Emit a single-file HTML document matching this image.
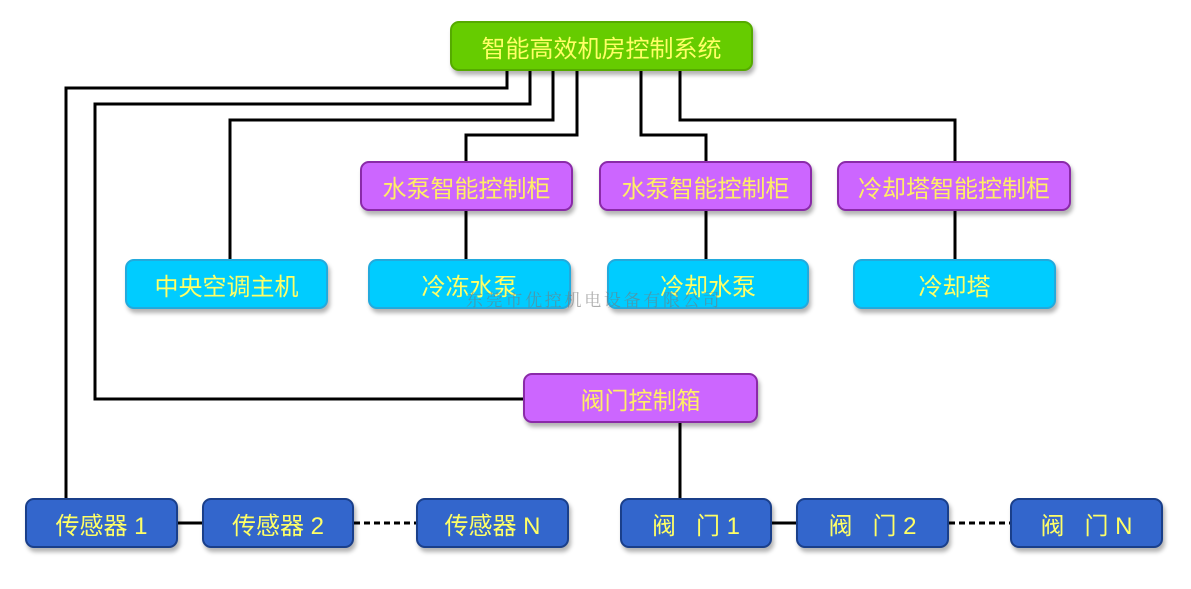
<!DOCTYPE html>
<html><head><meta charset="utf-8"><style>
body{margin:0;width:1191px;height:589px;background:#fff;position:relative;overflow:hidden;font-family:"Liberation Sans","Noto Sans CJK SC",sans-serif}
.b{position:absolute;box-sizing:border-box;border-radius:9px;display:flex;align-items:center;justify-content:center;color:#ffff66;font-size:24px;box-shadow:2px 4px 4px rgba(0,0,0,0.3);white-space:pre}
.g{background:#66cc00;border:2px solid #55aa00}
.p{background:#cc66ff;border:2px solid #8a2aa8;color:#ffee66}
.c{background:#00ccff;border:2px solid #22aadd}
.d{background:#3366cc;border:2px solid #1a3f8a}
svg{position:absolute;left:0;top:0}
.w{position:absolute;left:466px;top:286px;font-size:17px;color:rgba(120,120,120,0.6);font-family:"Noto Serif CJK SC",serif;letter-spacing:2.7px}
</style></head><body>
<svg width="1191" height="589"><g stroke="#000" stroke-width="3" fill="none">
<polyline points="507,71 507,88 66,88 66,498"/>
<polyline points="530,71 530,104 95,104 95,399 523,399"/>
<polyline points="553,71 553,120 230,120 230,260"/>
<polyline points="577,71 577,135 466,135 466,161"/>
<polyline points="641,71 641,135 706,135 706,161"/>
<polyline points="680,71 680,120 955,120 955,161"/>
<line x1="466" y1="211" x2="466" y2="260"/>
<line x1="706" y1="211" x2="706" y2="260"/>
<line x1="955" y1="211" x2="955" y2="260"/>
<line x1="680" y1="423" x2="680" y2="498"/>
<line x1="178" y1="523" x2="202" y2="523"/>
<line x1="772" y1="523" x2="796" y2="523"/>
<line x1="354" y1="523" x2="416" y2="523" stroke-dasharray="6,4"/>
<line x1="949" y1="523" x2="1010" y2="523" stroke-dasharray="6,4"/>
</g></svg>
<div class="b g" style="left:450px;top:21px;width:303px;height:50px">智能高效机房控制系统</div>
<div class="b p" style="left:360px;top:161px;width:213px;height:50px">水泵智能控制柜</div>
<div class="b p" style="left:599px;top:161px;width:213px;height:50px">水泵智能控制柜</div>
<div class="b p" style="left:837px;top:161px;width:234px;height:50px">冷却塔智能控制柜</div>
<div class="b c" style="left:125px;top:259px;width:203px;height:50px">中央空调主机</div>
<div class="b c" style="left:368px;top:259px;width:203px;height:50px">冷冻水泵</div>
<div class="b c" style="left:607px;top:259px;width:202px;height:50px">冷却水泵</div>
<div class="b c" style="left:853px;top:259px;width:203px;height:50px">冷却塔</div>
<div class="b p" style="left:523px;top:373px;width:235px;height:50px">阀门控制箱</div>
<div class="b d" style="left:25px;top:498px;width:153px;height:50px">传感器 1</div>
<div class="b d" style="left:202px;top:498px;width:152px;height:50px">传感器 2</div>
<div class="b d" style="left:416px;top:498px;width:153px;height:50px">传感器 N</div>
<div class="b d" style="left:620px;top:498px;width:152px;height:50px">阀   门 1</div>
<div class="b d" style="left:796px;top:498px;width:153px;height:50px">阀   门 2</div>
<div class="b d" style="left:1010px;top:498px;width:153px;height:50px">阀   门 N</div>
<div class="w">东莞市优控机电设备有限公司</div>
</body></html>
